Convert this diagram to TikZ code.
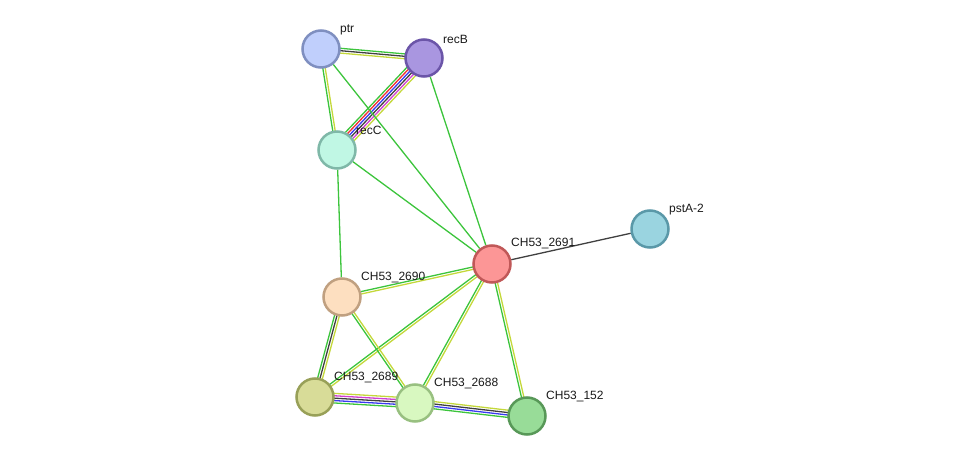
\documentclass[tikz,border=0pt]{standalone}
\usepackage{fontspec}
\setmainfont{Liberation Sans}
\usetikzlibrary{calc,backgrounds}
\definecolor{eg}{HTML}{3CC43C}
\definecolor{ey}{HTML}{C4D83A}
\definecolor{ek}{HTML}{404040}
\definecolor{er}{HTML}{F03030}
\definecolor{eb}{HTML}{3A3AF0}
\definecolor{em}{HTML}{D040D0}
\definecolor{fptr}{HTML}{C0CFFC}\definecolor{dptr}{HTML}{7F8FC0}
\definecolor{frecB}{HTML}{A996E0}\definecolor{drecB}{HTML}{6B55A8}
\definecolor{frecC}{HTML}{C0F7E4}\definecolor{drecC}{HTML}{7FB8A8}
\definecolor{fa}{HTML}{FC9696}\definecolor{da}{HTML}{C05858}
\definecolor{fp}{HTML}{9AD4E0}\definecolor{dp}{HTML}{5A98A8}
\definecolor{fb}{HTML}{FDDFC0}\definecolor{db}{HTML}{C0A080}
\definecolor{fc}{HTML}{D8DC98}\definecolor{dc}{HTML}{98A058}
\definecolor{fd}{HTML}{D8F8C0}\definecolor{dd}{HTML}{98C080}
\definecolor{fe}{HTML}{98DC98}\definecolor{de}{HTML}{589858}
\tikzset{
  prot/.style={circle, minimum size=37pt, inner sep=0pt, line width=2.5pt},
  lbl/.style={anchor=west, inner sep=1pt, text=black!90, font=\fontsize{12}{14}\selectfont},
  eline/.style={line width=1.3pt},
}
\newcommand\medge[4]{%
  \foreach \c [count=\i] in {#4} {%
    \pgfmathsetmacro\dd{((#3-1)/2-(\i-1))*2.4}
    \draw[eline,\c] ($(#1)!\dd pt!90:(#2)$) -- ($(#2)!\dd pt!-90:(#1)$);
  }%
}
\begin{document}
\begin{tikzpicture}[x=1pt,y=-1pt]
\useasboundingbox (0,0) rectangle (975,462);
\node[prot, fill=fptr, draw=dptr] (ptr) at (321,49) {};
\node[prot, fill=frecB, draw=drecB] (recB) at (424,58) {};
\node[prot, fill=frecC, draw=drecC] (recC) at (337,150) {};
\node[prot, fill=fa, draw=da] (n2691) at (492,264) {};
\node[prot, fill=fp, draw=dp] (pstA) at (650,229) {};
\node[prot, fill=fb, draw=db] (n2690) at (342,297) {};
\node[prot, fill=fc, draw=dc] (n2689) at (315,397) {};
\node[prot, fill=fd, draw=dd] (n2688) at (415,403) {};
\node[prot, fill=fe, draw=de] (n152) at (527,416) {};

\node[lbl] (lptr) at (339,30) {ptr};
\node[lbl] (lrecB) at (442,39) {recB};
\node[lbl] (lrecC) at (355,130) {recC};
\node[lbl] (l2691) at (510,244) {CH53\_2691};
\node[lbl] (lpstA) at (668,210) {pstA-2};
\node[lbl] (l2690) at (360,278) {CH53\_2690};
\node[lbl] (l2689) at (333,378) {CH53\_2689};
\node[lbl] (l2688) at (433,384) {CH53\_2688};
\node[lbl] (l152) at (545,397) {CH53\_152};

\begin{pgfonlayer}{background}
\medge{ptr}{recB}{3}{eg,ek,ey}
\medge{recC}{ptr}{2}{eg,ey}
\medge{recC}{recB}{6}{eg,er,eb,ek,em,ey}
\draw[eline,eg] (ptr) -- (n2691);
\draw[eline,eg] (recB) -- (n2691);
\draw[eline,eg] (recC) -- (n2691);
\draw[eline,eg] (recC) -- (n2690);
\draw[eline,ek] (n2691) -- (pstA);
\medge{n2690}{n2691}{2}{eg,ey}
\medge{n2689}{n2691}{2}{eg,ey}
\medge{n2688}{n2691}{2}{eg,ey}
\medge{n152}{n2691}{2}{eg,ey}
\medge{n2689}{n2690}{3}{eg,ek,ey}
\medge{n2688}{n2690}{2}{eg,ey}
\medge{n2689}{n2688}{5}{ey,em,ek,eb,eg}
\medge{n2688}{n152}{4}{ey,ek,eb,eg}
\end{pgfonlayer}
\end{tikzpicture}
\end{document}
